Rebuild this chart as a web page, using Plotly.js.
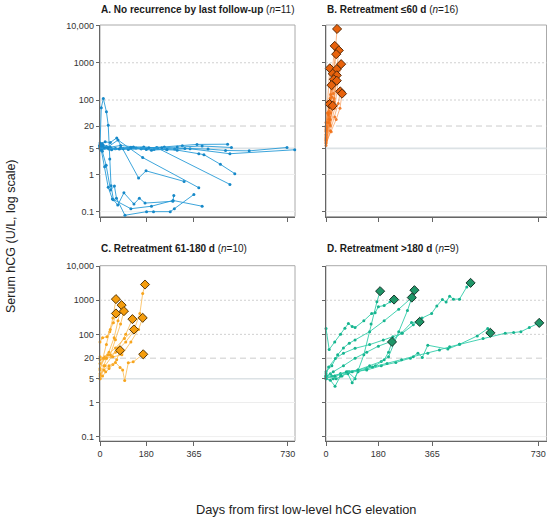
<!DOCTYPE html>
<html><head><meta charset="utf-8">
<script src="https://cdn.plot.ly/plotly-3.0.1.min.js"></script>
<style>html,body{margin:0;padding:0;background:#fff}#chart{width:550px;height:521px}</style>
</head><body><div id="chart"></div>
<script>
// ---------- tick labels ----------
const yTickVals = [0.1, 1, 5, 20, 100, 1000, 10000];
const yTickText = ['0.1', '1', '5', '20', '100', '1000', '10,000'];
const xTickVals = [0, 180, 365, 730];
const xTickText = ['0', '180', '365', '730'];
const panelTitles = [
  '<b>A. No recurrence by last follow-up</b> (<i>n</i>=11)',
  '<b>B. Retreatment \u226460 d</b> (<i>n</i>=16)',
  '<b>C. Retreatment 61-180 d</b> (<i>n</i>=10)',
  '<b>D. Retreatment >180 d</b> (<i>n</i>=9)'
];

// ---------- Panel A: no recurrence ----------
const A_days = [
  [0,5,13,25,32,38,43,52,69,93,132,153,175,283,287],
  [0,9,24,41,56,64,97,181,208,273,289,365],
  [0,5,18,32,48,120,200,284,397],
  [0,8,20,40,65,150,179,327],
  [0,12,30,70,166,384],
  [0,10,35,80,120,160,210,260,300,384,404,468,524],
  [0,20,60,120,170,224,505],
  [0,25,60,110,160,220,290,350,505,757],
  [0,18,45,90,140,200,260,330,420,488,580,727],
  [0,10,40,80,130,190,250,320,377,496],
  [0,6,30,75,120,180,240,300,397,511]
];
const A_vals = [
  [6,62,110,48,21,2.6,0.5,0.21,0.15,0.32,0.16,0.23,0.17,0.19,0.27],
  [5.5,4.2,1.76,0.38,0.49,0.23,0.08,0.1,0.1,0.1,0.12,0.29],
  [7,4.6,1.6,0.45,0.22,0.12,0.14,0.2,0.14],
  [6,6.8,7.5,7.2,9.6,0.8,1.25,0.65],
  [5.8,6.2,5.4,8.4,2.84,0.44],
  [5.2,5,4.8,5.1,5.4,4.9,4.7,4.6,4.5,3.6,3.4,1.87,1.05],
  [6,5.2,4.9,5.2,5.5,5.1,0.54],
  [5.2,5.6,5,4.7,4.9,5.3,4.8,4.9,3.6,4.6],
  [4.8,5.2,4.6,4.9,5.1,4.5,4.7,5,4.8,4.4,4.3,5.3],
  [6.2,5.8,5.4,6,5.5,5.2,5.5,5.9,6.4,6.5],
  [5.8,4.4,5.1,4.8,5.2,4.7,5.2,5.5,5.8,5.3]
];

// ---------- Panel B: retreatment <=60 d ----------
const B_days = [
  [0,10,22,32,38],
  [0,8,18,30],
  [0,12,25,36,44],
  [0,10,22,35],
  [0,15,30,42,52],
  [0,5,13],
  [0,12,25,37],
  [0,8,16,23],
  [0,14,28,37],
  [0,10,20,27],
  [0,15,28,37],
  [0,7,14,19],
  [0,15,30,42,49],
  [0,18,35,48,55],
  [0,5,12],
  [0,8,16,23]
];
const B_vals = [
  [9,30,200,1500,8100],
  [12,40,300,2840],
  [8,25,90,500,2150],
  [15,50,250,1700],
  [7,20,60,300,920],
  [20,90,710],
  [10,35,150,675],
  [14,40,140,510],
  [8,22,110,460],
  [11,30,120,360],
  [9,30,90,330],
  [18,45,110,250],
  [6,15,35,80,170],
  [7,14,30,60,148],
  [25,45,78],
  [16,25,45,70]
];

// ---------- Panel C: retreatment 61-180 d ----------
const C_days = [
  [0,25,60,100,130,155,166,175],
  [0,12,25,38,50,62],
  [0,15,35,55,70,84],
  [0,20,40,60,80,93],
  [0,10,27,40,52,62],
  [0,20,45,70,100,126],
  [0,25,50,85,120,150,166],
  [0,15,30,60,95,132],
  [0,10,22,35,50,65,78],
  [0,15,35,60,78,88,96,110,129,168]
];
const C_vals = [
  [14,20,30,60,120,410,1580,2900],
  [9,20,50,120,300,1080],
  [6,12,30,80,250,720],
  [10,22,25,70,200,480],
  [60,80,85,140,220,410],
  [5,12,22,40,100,280],
  [18,20,22,25,60,140,305],
  [22,20,25,40,75,139],
  [5,6,8,10,13,18,34],
  [7,9,12,15,10.7,9,4.4,14.6,15.6,26]
];

// ---------- Panel D: retreatment >180 d ----------
const D_days = [
  [0,15,35,55,75,100,130,155,175,186],
  [0,11,30,50,65,77,90,100,130,157,169,180,200,220,234],
  [0,20,40,60,80,100,150,200,250,295],
  [0,25,50,80,110,150,190,215,250,280,304],
  [0,25,60,100,140,180,220,260,294,322],
  [0,15,31,50,75,90,110,140,170,200,215,227],
  [0,9,32,60,100,150,197,230,262,300,330,363,381,400,413,425,438,459,484,497],
  [0,20,50,90,140,190,240,290,316,331,350,419,459,520,556,565],
  [0,30,70,110,160,210,260,300,350,390,425,459,540,616,645,670,699,733]
];
const D_vals = [
  [6,7,5,6,8,5,25,200,900,1850],
  [148,36,60,100,150,209,170,158,250,410,430,650,700,900,1050],
  [8,12,25,40,55,68,120,250,550,1200],
  [6,5,7,8,9,12,16,22,120,500,1980],
  [5.5,8,12,20,30,45,60,110,222,233],
  [5,4.5,3,6,7,3.8,8,10,12,18,30,60],
  [7,11,19.5,28,39,50,68,85,107,190,300,410,680,1050,890,1320,1080,1080,2470,3240],
  [5,6,7,8,9,12,15,20,28,21,48,37,51,90,148,111],
  [6,6,8,9,11,14,18,22,28,35,43,51,75,108,113,120,158,217]
];

// ---------- styling ----------
const FONT = 'Liberation Sans, Arial, Helvetica, sans-serif';
const panels = [
  {days:A_days, vals:A_vals, s:'', line:'rgba(40,155,215,0.9)', mk:'#1688c8', dia:null},
  {days:B_days, vals:B_vals, s:'2', line:'rgba(245,125,40,0.55)', mk:'rgba(240,110,20,0.85)', dia:'#e8620c', diaLine:'#5a2a08'},
  {days:C_days, vals:C_vals, s:'3', line:'rgba(252,190,90,0.85)', mk:'#f7a51e', dia:'#f59d0d', diaLine:'#5a3a08'},
  {days:D_days, vals:D_vals, s:'4', line:'rgba(50,205,170,0.9)', mk:'#17b48f', dia:'#1f9668', diaLine:'#15352a'}
];

const traces = [];
panels.forEach(p => {
  const xa = 'x' + p.s, ya = 'y' + p.s;
  p.days.forEach((d, i) => {
    traces.push({
      type:'scatter', mode:'lines+markers', x:d, y:p.vals[i], xaxis:xa, yaxis:ya,
      line:{color:p.line, width:1}, marker:{size:3, color:p.mk},
      cliponaxis:false, hoverinfo:'skip', showlegend:false
    });
  });
  if (p.dia) {
    traces.push({
      type:'scatter', mode:'markers', xaxis:xa, yaxis:ya,
      x:p.days.map(d => d[d.length-1]),
      y:p.vals.map(v => v[v.length-1]),
      marker:{symbol:'diamond', size:7, color:p.dia, line:{color:p.diaLine, width:1}},
      cliponaxis:false, hoverinfo:'skip', showlegend:false
    });
  }
});

const W = 550, H = 521;
const colX = [[100/W, 295/W], [326/W, 546.5/W]];
const rowY = [[1-216.5/H, 1-25/H], [1-441/H, 1-265.7/H]];
const layout = {
  width:W, height:H, margin:{l:0,r:0,t:0,b:0},
  paper_bgcolor:'#fff', plot_bgcolor:'#fff',
  font:{family:FONT, size:9, color:'#333'},
  showlegend:false, shapes:[], annotations:[]
};
const gridStyles = [
  {v:0.1, line:{color:'#efefef', width:1}},
  {v:1, line:{color:'#ededed', width:1}},
  {v:5, line:{color:'#dce2e5', width:1.6}},
  {v:20, line:{color:'#cccccc', width:1, dash:'6px,4px'}},
  {v:100, line:{color:'#d0d0d0', width:1, dash:'2px,2px'}},
  {v:1000, line:{color:'#d0d0d0', width:1, dash:'2px,2px'}}
];
[0,1,2,3].forEach(k => {
  const s = ['', '2', '3', '4'][k];
  const col = k % 2, row = Math.floor(k / 2);
  const xname = 'xaxis' + s, yname = 'yaxis' + s;
  layout[xname] = {
    domain:colX[col], range:[0, 758], anchor:'y' + s,
    tickvals:xTickVals, ticktext:xTickText, showticklabels:row === 1,
    ticks:'outside', ticklen:4, tickwidth:1, tickcolor:'#666',
    showline:true, linecolor:'#666', linewidth:1.3,
    showgrid:false, zeroline:false, fixedrange:true,
    tickfont:{family:FONT, size:9, color:'#333'}
  };
  layout[yname] = {
    domain:rowY[row], type:'log', range:[-1.13, 4.015], anchor:'x' + s,
    tickvals:yTickVals, ticktext:yTickText, showticklabels:col === 0,
    ticks:'outside', ticklen:3, tickwidth:1, tickcolor:'#666',
    showline:true, linecolor:'#666', linewidth:1.3,
    showgrid:false, zeroline:false, fixedrange:true,
    tickfont:{family:FONT, size:9, color:'#333'}
  };
  layout.shapes.push({type:'rect', layer:'below', xref:'x' + s + ' domain', yref:'y' + s + ' domain',
    x0:0, x1:1, y0:0, y1:1, line:{color:'#aaaaaa', width:1}, fillcolor:'rgba(0,0,0,0)'});
  gridStyles.forEach(g => {
    layout.shapes.push({type:'line', layer:'below', xref:'x' + s + ' domain', yref:'y' + s,
      x0:0, x1:1, y0:g.v, y1:g.v, line:g.line});
  });
  layout.annotations.push({
    text:panelTitles[k], xref:'paper', yref:'paper',
    x:(col === 0 ? 99 : 325) / W, y:1 - (row === 0 ? 10 : 249) / H,
    xanchor:'left', yanchor:'middle', showarrow:false,
    font:{family:FONT, size:10, color:'#1a1a1a'}
  });
});
layout.annotations.push({
  text:'Serum hCG (U/L, log scale)', xref:'paper', yref:'paper',
  x:11 / W, y:1 - 236 / H, textangle:-90, showarrow:false,
  xanchor:'center', yanchor:'middle', font:{family:FONT, size:12.5, color:'#222'}
});
layout.annotations.push({
  text:'Days from first low-level hCG elevation', xref:'paper', yref:'paper',
  x:306 / W, y:1 - 509 / H, showarrow:false,
  xanchor:'center', yanchor:'middle', font:{family:FONT, size:12.8, color:'#222'}
});

Plotly.newPlot('chart', traces, layout, {staticPlot:true, displayModeBar:false});
</script>
</body></html>
